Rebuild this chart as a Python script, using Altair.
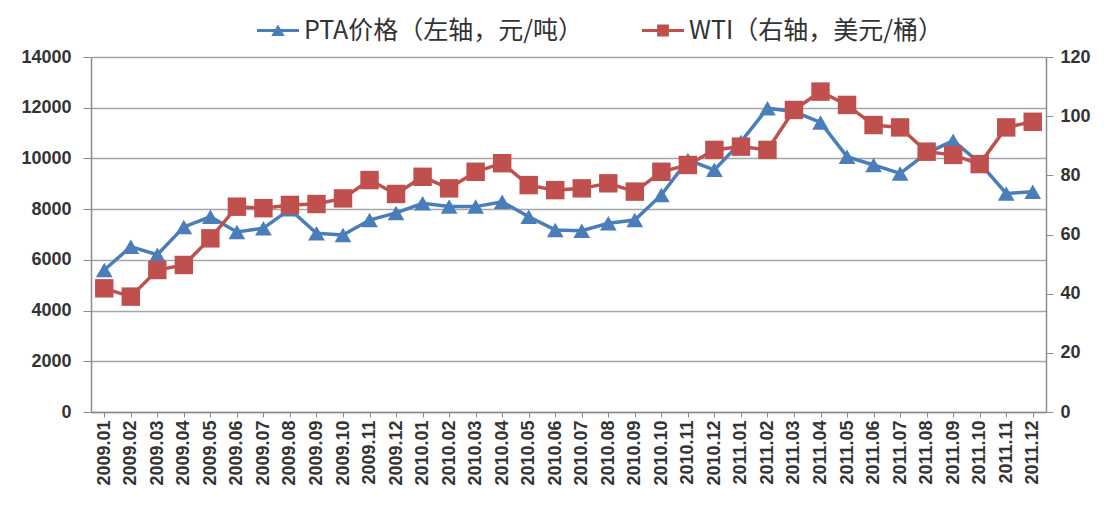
import altair as alt
import pandas as pd

months = [
    "2009.01", "2009.02", "2009.03", "2009.04", "2009.05", "2009.06",
    "2009.07", "2009.08", "2009.09", "2009.10", "2009.11", "2009.12",
    "2010.01", "2010.02", "2010.03", "2010.04", "2010.05", "2010.06",
    "2010.07", "2010.08", "2010.09", "2010.10", "2010.11", "2010.12",
    "2011.01", "2011.02", "2011.03", "2011.04", "2011.05", "2011.06",
    "2011.07", "2011.08", "2011.09", "2011.10", "2011.11", "2011.12",
]
pta = [
    5600, 6520, 6200, 7300, 7700, 7100, 7250, 8000, 7050, 6980, 7570, 7850,
    8230, 8100, 8100, 8290, 7700, 7180, 7150, 7440, 7570, 8560, 9940, 9550,
    10650, 11980, 11850, 11420, 10070, 9740, 9410, 10200, 10700, 9820, 8620, 8690,
]
wti = [
    41.8, 39.0, 48.0, 49.7, 58.7, 69.4, 68.9, 70.0, 70.3, 72.2, 78.4, 73.7,
    79.5, 75.6, 81.2, 84.1, 76.7, 75.0, 75.6, 77.3, 74.5, 81.2, 83.5, 88.6,
    89.7, 88.6, 102.1, 108.3, 103.8, 97.0, 96.2, 88.0, 86.9, 83.8, 96.2, 98.1,
]
left_ticks = [0, 2000, 4000, 6000, 8000, 10000, 12000, 14000]
right_ticks = [0, 20, 40, 60, 80, 100, 120]

PTA_LABEL = "PTA价格（左轴，元/吨）"
WTI_LABEL = "WTI（右轴，美元/桶）"

BLUE = "#4A7EBB"
RED = "#C0504D"
AXIS_GRAY = "#8C8C8C"
LABEL_FONT = "Liberation Sans"
LABEL_COLOR = "#333333"
CJK_FONT = "Noto Sans CJK SC"

df = pd.DataFrame({"month": months, "pta": pta, "wti": wti,
                   "s1": PTA_LABEL, "s2": WTI_LABEL})

# legend glyphs: a short line with the series marker in the middle
# (unit = half of the symbol box; the glyph spans -1..3 so it is twice the box wide)
TRI_PATH = "M-1,-0.15L3,-0.15L3,0.15L-1,0.15Z M0.36,0.52L1,-0.58L1.64,0.52Z"
SQ_PATH = "M-1,-0.15L3,-0.15L3,0.15L-1,0.15Z M0.44,-0.56L1.56,-0.56L1.56,0.56L0.44,0.56Z"


def legend(x, path):
    return alt.Legend(title=None, orient="none", legendX=x, legendY=-39,
                      symbolType=path, symbolSize=441,
                      symbolStrokeWidth=0, symbolOpacity=1,
                      labelFontSize=25, labelFont=CJK_FONT,
                      labelColor=LABEL_COLOR, labelOffset=24,
                      padding=0, labelLimit=0)


x_enc = alt.X(
    "month:N", sort=months, title=None,
    axis=alt.Axis(labelAngle=-90, labelFontSize=18, labelFont=LABEL_FONT,
                  labelFontWeight="bold", labelColor=LABEL_COLOR, labelPadding=3,
                  tickSize=5, tickColor=AXIS_GRAY, domainColor=AXIS_GRAY,
                  domainWidth=1.5, grid=False, labelOverlap=False),
)
y_left = alt.Y(
    "pta:Q", title=None, scale=alt.Scale(domain=[0, 14000], nice=False),
    axis=alt.Axis(orient="left", values=left_ticks, format="d", grid=True,
                  gridColor="#A6A6A6", gridWidth=1.5, labelFontSize=18,
                  labelFont=LABEL_FONT, labelFontWeight="bold",
                  labelColor=LABEL_COLOR, tickSize=8,
                  tickColor=AXIS_GRAY, domainColor=AXIS_GRAY, domainWidth=1.5,
                  labelPadding=12),
)
y_right = alt.Y(
    "wti:Q", title=None, scale=alt.Scale(domain=[0, 120], nice=False),
    axis=alt.Axis(orient="right", values=right_ticks, format="d", grid=False,
                  labelFontSize=18, labelFont=LABEL_FONT, labelFontWeight="bold",
                  labelColor=LABEL_COLOR, tickSize=7, tickColor=AXIS_GRAY,
                  domainColor=AXIS_GRAY, domainWidth=1.5, labelPadding=7),
)

base = alt.Chart(df)

pta_line = base.mark_line(color=BLUE, strokeWidth=3.5).encode(x=x_enc, y=y_left)
pta_pts = base.mark_point(shape="triangle-up", filled=True, size=280, opacity=1).encode(
    x=x_enc, y=y_left,
    color=alt.Color("s1:N", scale=alt.Scale(domain=[PTA_LABEL], range=[BLUE]),
                    legend=legend(164, TRI_PATH)),
)
wti_line = base.mark_line(color=RED, strokeWidth=3.5).encode(x=x_enc, y=y_right)
wti_pts = base.mark_point(shape="square", filled=True, size=340, opacity=1).encode(
    x=x_enc, y=y_right,
    color=alt.Color("s2:N", scale=alt.Scale(domain=[WTI_LABEL], range=[RED]),
                    legend=legend(549, SQ_PATH)),
)

left = alt.layer(pta_line, pta_pts)
right = alt.layer(wti_line, wti_pts)

chart = (
    alt.layer(left, right)
    .resolve_scale(y="independent", color="independent")
    .properties(width=955, height=355,
                autosize=alt.AutoSizeParams(type="none"),
                padding={"left": 83, "top": 49, "right": 56, "bottom": 86},
                background="white")
    .configure_view(strokeWidth=0)
)

chart.save("out.html", embed_options={"renderer": "svg", "actions": False})
